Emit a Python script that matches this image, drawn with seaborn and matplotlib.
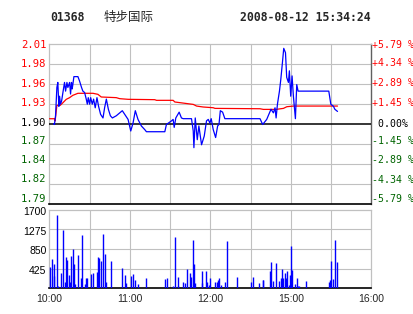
import matplotlib
matplotlib.use("Agg")
import matplotlib.pyplot as plt
import matplotlib.transforms as mtransforms
import seaborn as sns
import pandas as pd

sns.set_theme(style="white")
plt.rcParams['font.family'] = ['DejaVu Sans Mono', 'Noto Sans CJK SC']

# ---- data (minutes from 10:00 on a 240-minute trading axis) ----
price_minute = [3.0, 3.7, 4.5, 5.5, 6.2, 7.0, 7.5, 8.2, 9.0, 10.0, 11.2, 12.0, 13.0, 13.7, 15.0,
                15.7, 16.4, 16.9, 17.4, 18.2, 21.2, 22.4, 23.9, 24.9, 26.2, 27.4, 28.2, 28.9,
                29.9, 30.7, 31.9, 32.9, 34.1, 35.4, 36.6, 38.1, 39.9, 41.1, 42.4, 43.9, 45.4,
                46.9, 49.8, 54.3, 58.6, 60.6, 62.3, 64.0, 66.0, 68.5, 71.0, 72.3, 86.0, 87.2,
                91.0, 92.2, 93.0, 94.2, 96.7, 98.4, 99.7, 105.9, 107.2, 107.7, 108.7, 110.2,
                111.4, 113.4, 115.4, 117.1, 118.4, 119.6, 120.6, 122.1, 123.9, 125.4, 126.4,
                127.4, 129.1, 130.8, 157.0, 159.0, 162.0, 165.2, 167.0, 168.2, 169.0, 170.0,
                171.5, 172.5, 173.7, 174.7, 176.0, 176.9, 178.2, 178.9, 179.9, 180.9, 181.9,
                183.4, 184.4, 185.4, 208.3, 209.8, 211.8, 212.8, 214.8]
price_value = [1.900, 1.899, 1.911, 1.950, 1.957, 1.924, 1.938, 1.927, 1.931, 1.943, 1.957, 1.945,
               1.957, 1.950, 1.957, 1.941, 1.957, 1.948, 1.954, 1.965, 1.965, 1.959, 1.950, 1.945,
               1.943, 1.934, 1.927, 1.936, 1.927, 1.936, 1.927, 1.934, 1.922, 1.936, 1.924, 1.913,
               1.908, 1.922, 1.934, 1.920, 1.911, 1.908, 1.911, 1.918, 1.906, 1.890, 1.901, 1.918,
               1.906, 1.897, 1.892, 1.889, 1.889, 1.899, 1.904, 1.906, 1.895, 1.908, 1.916, 1.908,
               1.907, 1.907, 1.890, 1.867, 1.908, 1.878, 1.897, 1.871, 1.883, 1.904, 1.906, 1.901,
               1.907, 1.892, 1.881, 1.897, 1.899, 1.918, 1.916, 1.907, 1.907, 1.899, 1.906, 1.920,
               1.915, 1.922, 1.908, 1.927, 1.945, 1.961, 1.984, 2.004, 1.998, 1.964, 1.957, 1.973,
               1.938, 1.966, 1.938, 1.907, 1.954, 1.945, 1.945, 1.927, 1.924, 1.920, 1.917]

avg_minute = [0.0, 3.7, 4.2, 5.5, 8.0, 10.0, 12.5, 15.0, 17.4, 21.2, 32.4, 36.1, 38.6, 49.8,
              52.3, 58.6, 78.5, 79.8, 92.2, 93.5, 107.2, 109.7, 114.6, 122.1, 123.4, 157.0,
              159.5, 169.0, 174.5, 177.0, 182.0, 214.8]
avg_value = [1.9069, 1.9069, 1.9037, 1.9254, 1.9254, 1.9290, 1.9337, 1.9360, 1.9392, 1.9420,
             1.9420, 1.9406, 1.9369, 1.9360, 1.9346, 1.9337, 1.9332, 1.9323, 1.9323, 1.9300,
             1.9267, 1.9244, 1.9231, 1.9221, 1.9212, 1.9207, 1.9198, 1.9198, 1.9212, 1.9235,
             1.9244, 1.9244]

vol_minute = [0.2, 2.2, 3.0, 3.7, 5.5, 6.2, 8.5, 10.0, 11.5, 12.2, 13.0, 14.5, 15.0, 16.0, 17.4,
              18.2, 18.7, 21.2, 23.7, 24.4, 26.4, 27.2, 28.2, 30.7, 32.4, 35.4, 35.9, 36.6, 38.4,
              39.9, 41.4, 42.1, 45.9, 54.1, 56.6, 57.3, 60.6, 62.3, 63.8, 66.0, 72.0, 86.2, 87.7,
              92.2, 93.7, 95.5, 96.2, 99.9, 101.4, 102.7, 104.9, 105.6, 106.9, 107.7, 108.4,
              113.4, 113.9, 116.6, 117.1, 118.9, 119.9, 123.6, 124.9, 125.9, 126.4, 127.6, 131.1,
              132.6, 140.1, 150.5, 152.0, 156.5, 159.0, 159.5, 164.7, 165.2, 167.0, 169.0, 171.2,
              172.7, 173.7, 174.5, 175.4, 176.2, 177.2, 178.7, 179.4, 180.2, 180.7, 183.4, 184.9,
              185.7, 186.2, 191.4, 208.3, 209.3, 210.3, 211.5, 213.1, 214.3]
vol_value = [468, 626, 526, 266, 1584, 50, 324, 1260, 130, 670, 612, 288, 130, 698, 842,
             526, 94, 720, 216, 1152, 86, 216, 216, 310, 338, 353, 670, 655, 590,
             1174, 742, 144, 590, 432, 288, 108, 259, 310, 173, 94, 216, 202, 216,
             50, 1109, 50, 238, 144, 108, 410, 324, 238, 1044, 526, 108,
             122, 374, 374, 144, 72, 216, 144, 144, 180, 216, 72, 144,
             1022, 238, 144, 238, 122, 180, 180, 374, 576, 158, 540, 158,
             230, 425, 230, 324, 230, 374, 72, 288, 914, 396, 86, 223,
             50, 50, 158, 144, 180, 590, 209, 1044, 569]

price_ticks = [1.79, 1.8175, 1.845, 1.8725, 1.90, 1.9275, 1.955, 1.9825, 2.01]
price_labels = ['1.79', '1.82', '1.84', '1.87', '1.90', '1.93', '1.96', '1.98', '2.01']
pct_labels = ['-5.79 %', '-4.34 %', '-2.89 %', '-1.45 %', ' 0.00%',
              '+1.45 %', '+2.89 %', '+4.34 %', '+5.79 %']
vol_ticks = [425, 850, 1275, 1700]
vol_labels = ['425', '850', '1275', '1700']
time_ticks = [0, 60, 120, 180, 240]
time_labels = ['10:00', '11:00', '12:00', '15:00', '16:00']
grid_minutes = [30, 60, 90, 120, 150, 180, 210]

code_text = '01368'
name_text = '特步国际'
time_text = '2008-08-12 15:34:24'

RED = '#ff0000'
GREEN = '#006400'
BLUE = '#0000ff'
GRID = '#c0c0c0'

df_price = pd.DataFrame({'minute': price_minute, 'price': price_value})
df_avg = pd.DataFrame({'minute': avg_minute, 'price': avg_value})

W, H = 414, 314
fig = plt.figure(figsize=(W / 100, H / 100), dpi=100)
fig.patch.set_facecolor('white')
left = 49.5 / W
width = (371.3 - 49.5) / W
ax1 = fig.add_axes([left, (H - 203.5) / H, width, (203.5 - 44.0) / H])
ax2 = fig.add_axes([left, (H - 288.3) / H, width, (288.3 - 209.7) / H])


def px_offset(trans, dx, dy):
    # dx, dy in pixels (dy positive = up)
    return trans + mtransforms.ScaledTranslation(dx / 100, dy / 100, fig.dpi_scale_trans)


def label_color(t):
    return RED if t > 1.9001 else ('black' if t > 1.8999 else GREEN)


# ---- price panel ----
ax1.set_xlim(0, 240)
ax1.set_ylim(price_ticks[0], price_ticks[-1])
for t in price_ticks[1:-1]:
    if abs(t - 1.90) < 1e-9:
        ax1.axhline(t, color='black', lw=1.1, zorder=3)
    else:
        ax1.axhline(t, color=GRID, lw=0.8, zorder=1)
for m in grid_minutes:
    ax1.axvline(m, color=GRID, lw=0.8, zorder=1)

sns.lineplot(data=df_avg, x='minute', y='price', ax=ax1, color=RED, lw=0.9,
             sort=False, estimator=None, zorder=4)
sns.lineplot(data=df_price, x='minute', y='price', ax=ax1, color=BLUE, lw=0.9,
             sort=False, estimator=None, zorder=5)

ax1.set_xticks([])
ax1.set_yticks([])
ax1.set_xlabel('')
ax1.set_ylabel('')

left_up = [5.0, 4.5, 3.3, 2.3, 1.0, 1.0, 0.0, 0.0, -0.5]
right_up = [5.0, 4.0, 3.5, 3.0, 0.0, 1.0, 0.5, 0.5, -0.5]
ytrans = mtransforms.blended_transform_factory(ax1.transAxes, ax1.transData)
for t, lab, up in zip(price_ticks, price_labels, left_up):
    ax1.text(0, t, lab, transform=px_offset(ytrans, -3, up), ha='right', va='center',
             fontsize=7.6, color=label_color(t), family=['DejaVu Sans Mono'])
for t, lab, up in zip(price_ticks, pct_labels, right_up):
    ax1.text(1, t, lab, transform=px_offset(ytrans, 0.5, up), ha='left', va='center',
             fontsize=7.1, color=label_color(t), family=['DejaVu Sans Mono'])

for s in ['top', 'left']:
    ax1.spines[s].set_color(GRID)
    ax1.spines[s].set_linewidth(0.9)
ax1.spines['bottom'].set_color('black')
ax1.spines['bottom'].set_linewidth(1.2)
ax1.spines['right'].set_color('#606060')
ax1.spines['right'].set_linewidth(1.0)

# ---- volume panel ----
ax2.set_xlim(0, 240)
ax2.set_ylim(0, 1700)
for v in vol_ticks[:-1]:
    ax2.axhline(v, color=GRID, lw=0.8, zorder=1)
for m in grid_minutes:
    ax2.axvline(m, color=GRID, lw=0.8, zorder=1)
ax2.vlines(vol_minute, 0, vol_value, color=BLUE, lw=1.0, zorder=4)

ax2.set_yticks([])
ax2.set_xticks(time_ticks)
ax2.set_xticklabels(time_labels, family=['Liberation Sans', 'DejaVu Sans'])
ax2.tick_params(axis='x', length=0, pad=4, labelsize=7.5)
vtrans = mtransforms.blended_transform_factory(ax2.transAxes, ax2.transData)
for v, lab in zip(vol_ticks, vol_labels):
    ax2.text(0, v, lab, transform=px_offset(vtrans, -3, -2.5), ha='right', va='center',
             fontsize=7.5, color='black', family=['Liberation Sans', 'DejaVu Sans'])
for s in ['top', 'left', 'right']:
    ax2.spines[s].set_color(GRID)
    ax2.spines[s].set_linewidth(0.9)
ax2.spines['bottom'].set_color('black')
ax2.spines['bottom'].set_linewidth(1.2)

# ---- header ----
ty = 1 - 17.5 / H
fig.text(50 / W, ty, code_text, fontsize=8.3, fontweight='bold', va='center', ha='left',
         family=['DejaVu Sans Mono'])
fig.text(104 / W, ty, name_text, fontsize=9, va='center', ha='left',
         family=['Noto Sans CJK SC', 'DejaVu Sans'])
fig.text(370.5 / W, ty, time_text, fontsize=8.3, fontweight='bold', va='center', ha='right',
         family=['DejaVu Sans Mono'])

fig.savefig('out.png', dpi=100, facecolor='white')
